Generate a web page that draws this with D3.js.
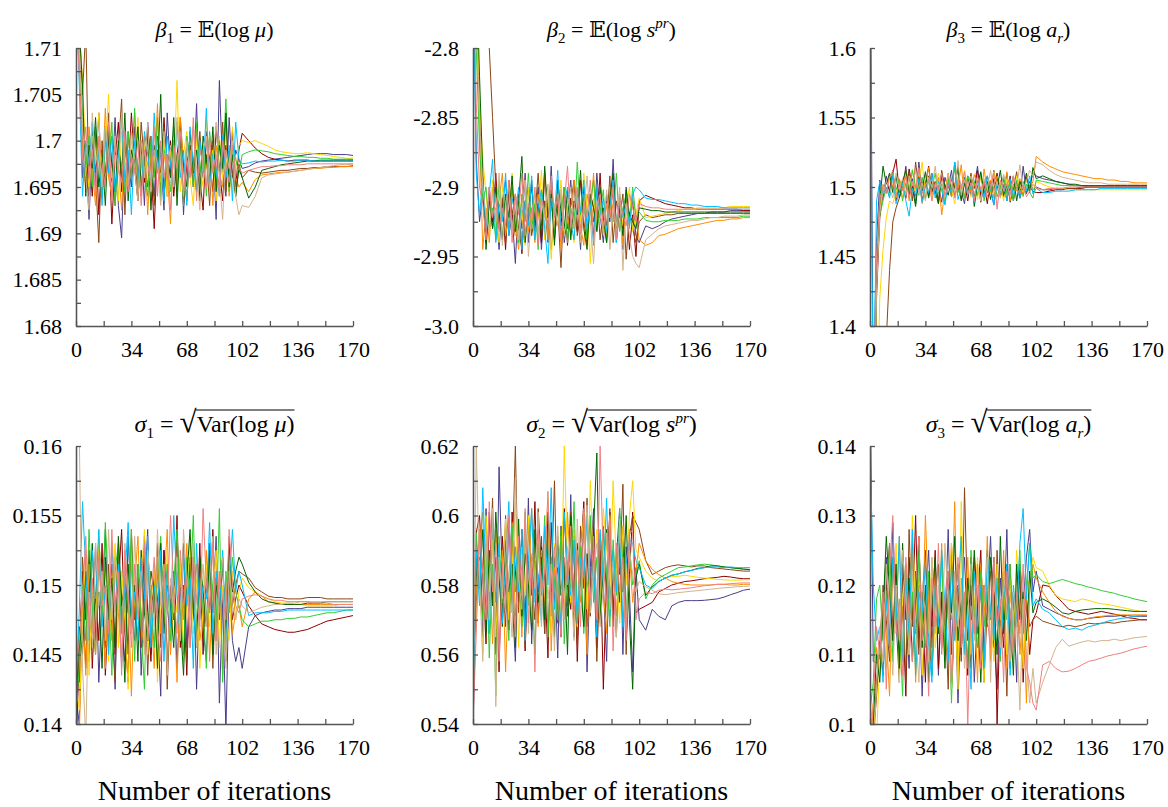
<html>
<script src="https://d3js.org/d3.v7.min.js"></script>
<style>
    body { margin: 0; background: #fff; }
    text { font-family: "Liberation Serif", "Times New Roman", "DejaVu Serif", serif; }
    .axis path,
    .axis line {
        fill: none;
        stroke: #555;
        stroke-width: 1.3;
    }
    .axis text { font-size: 22px; fill: #000; }
</style>
<body>
<svg id="chart" width=1168 height=807></svg>
<script>
// iterations at which the chains are sampled
var iters = [0,2,4,6,8,10,12,14,16,18,20,22,24,26,28,30,32,34,36,38,40,42,44,46,48,50,52,54,56,58,60,62,64,66,68,70,72,74,76,78,80,82,84,86,88,90,92,94,96,98,100,102,
             106,110,114,118,122,126,130,134,138,142,146,150,154,158,162,166,170];

var colors = ["#483d8b", "#8b0000", "#8b4513", "#ff8c00", "#ffd700", "#32cd32", "#006400", "#00bfff", "#d2b48c", "#f08080"];

var xTicks = [0,17,34,51,68,85,102,119,136,153,170];
var xLabels = ["0","","34","","68","","102","","136","","170"];

// beta1: values in units of 1e-4 above 1.68
var beta1Base = 1.68, beta1Unit = 1e-4;
var beta1 = [
 [420,300,160,190,115,200,165,230,140,210, 180,155,225,130,95,200,175,150,215,160, 195,130,220,170,140,205,185,125,230,165, 190,145,215,120,200,175,160,240,135,185, 210,150,195,115,265,170,140,225,160,190, 180,170, 172,176,178,179,180,181,182,183,184,185,186,186,186,185,185,185,184],
 [380,290,200,150,185,140,210,120,190,165, 205,110,180,220,145,195,160,230,170,135, 200,155,215,175,105,190,150,225,165,200, 140,185,210,130,175,195,150,220,160,125, 205,180,145,215,170,135,195,160,210,150, 190,208, 200,192,186,182,180,179,178,179,179,179,178,178,178,178,178,178,178],
 [450,330,250,320,140,210,160,90,200,150, 230,170,130,190,245,120,210,160,185,140, 220,175,150,205,130,190,165,215,140,185, 200,155,225,170,135,195,180,145,210,160, 185,130,200,170,150,220,145,190,165,140, 175,160, 168,166,165,166,167,168,168,169,170,170,171,171,172,172,172,172,173],
 [400,280,190,145,215,170,130,200,155,235, 160,140,195,175,125,210,150,180,230,145, 170,205,120,190,160,240,140,185,165,110, 200,150,225,175,135,190,160,215,145,180, 170,205,130,195,165,150,220,140,185,160, 150,155, 145,158,163,164,165,166,166,167,168,169,170,170,171,171,172,172,172],
 [390,310,270,180,150,205,175,230,140,190, 250,160,185,135,210,170,145,200,180,225, 150,195,165,130,215,175,155,205,140,190, 170,265,145,185,210,160,130,200,175,150, 225,165,190,135,205,160,180,145,215,170, 195,200, 198,200,197,194,190,188,187,186,186,187,186,185,184,183,182,181,181],
 [410,280,230,170,205,150,215,185,140,200, 165,220,130,190,175,145,210,160,235,150, 185,170,140,200,160,225,135,190,175,145, 215,165,190,130,205,180,150,220,165,195, 140,210,175,155,200,170,245,145,190,180, 165,185, 188,190,189,188,186,185,184,183,183,182,182,181,181,180,180,180,180],
 [430,320,260,140,195,170,225,150,185,130, 210,175,145,200,160,230,135,190,170,215, 150,180,205,125,195,165,250,140,185,160, 225,130,200,175,150,210,165,190,140,205, 180,155,215,145,195,170,230,150,185,140, 170,160, 138,150,168,170,172,174,175,176,177,178,178,179,179,179,179,179,179],
 [370,260,140,200,175,220,150,190,130,215, 165,205,145,180,225,155,190,120,200,170, 140,210,185,155,230,165,195,135,205,175, 150,220,160,190,130,215,175,145,200,165, 235,150,185,170,140,205,160,195,135,220, 180,175, 176,178,177,178,178,179,178,178,179,179,178,178,178,178,178,178,178],
 [360,300,210,160,125,230,175,195,150,215, 185,140,205,165,230,180,150,210,170,135, 200,160,220,145,190,175,130,210,165,195, 150,225,180,140,200,160,215,170,125,190, 205,145,175,220,160,115,190,170,200,140, 120,130, 128,140,160,163,164,165,166,167,168,169,170,171,172,173,174,174,175],
 [350,270,180,215,160,190,140,205,175,150, 220,135,195,170,155,210,145,185,165,200, 130,190,175,150,215,140,200,160,185,125, 195,170,210,145,180,160,225,135,190,175, 150,205,165,185,140,200,175,155,195,165, 170,165, 168,170,172,172,173,173,174,174,174,175,175,175,175,175,175,175,175]
];

// beta2: values in units of 1e-3 above -3.0
var beta2Base = -3.0, beta2Unit = 1e-3;
var beta2 = [
 [280,120,75,95,60,100,70,85,55,90, 105,65,80,45,95,70,110,60,85,75, 100,55,90,70,115,65,85,95,60,80, 105,70,90,55,100,75,85,65,110,80, 60,95,75,120,70,85,55,100,75,90, 65,60, 72,70,72,75,77,78,79,80,81,81,82,82,82,83,83,83,83],
 [300,240,150,105,60,95,75,110,70,88, 55,100,80,65,95,52,90,75,105,68, 85,60,110,78,95,62,88,72,100,58, 92,80,68,105,75,60,95,85,70,110, 65,90,78,100,60,85,70,95,55,80, 50,90, 94,92,90,88,87,86,85,85,84,84,84,84,84,84,84,83,83],
 [320,300,280,260,230,200,150,100,75,92, 60,105,80,95,70,55,88,100,65,80, 110,72,90,60,98,78,85,42,95,70, 88,105,65,80,95,58,90,75,100,62, 85,72,108,60,90,78,95,48,82,70, 60,75, 80,78,79,80,80,81,81,81,81,81,81,81,81,81,81,81,81],
 [290,230,140,55,85,60,100,75,90,110, 65,80,98,72,55,90,105,68,85,60, 95,78,112,62,88,70,100,55,92,80, 65,105,85,72,58,95,80,110,68,90, 75,60,100,82,70,95,58,88,76,92, 80,62, 58,60,65,66,68,70,71,72,73,74,75,76,76,77,77,78,78],
 [310,250,160,120,95,70,105,80,60,100, 88,75,110,65,92,82,58,100,70,90, 78,112,62,95,48,85,72,105,68,90, 80,60,98,75,110,85,45,92,70,100, 65,88,78,105,60,95,72,85,100,68, 80,92, 78,79,80,81,82,83,84,84,85,85,85,85,85,86,86,86,86],
 [270,200,130,90,100,70,85,62,105,78, 92,68,100,80,60,95,75,110,70,88, 55,98,82,70,105,65,92,78,100,60, 85,72,118,80,95,62,88,105,70,82, 98,60,90,75,110,68,85,95,72,100, 78,82, 76,75,75,76,76,76,77,77,77,78,78,78,78,78,78,79,79],
 [300,260,180,110,55,90,70,100,82,62, 95,78,108,68,90,122,60,85,100,72, 88,65,115,78,95,58,105,82,70,98, 62,90,80,112,70,55,95,85,68,100, 78,60,92,110,72,88,65,98,80,75, 70,85, 84,83,83,82,82,82,82,82,82,82,82,82,82,82,82,82,82],
 [260,110,80,105,70,95,120,60,88,75, 110,65,92,80,100,55,90,72,108,62, 85,98,70,45,92,80,112,66,88,100, 75,62,95,82,105,70,88,58,100,78, 92,68,85,105,60,95,78,88,70,95, 100,98, 92,91,91,90,89,88,88,87,87,86,86,86,85,85,85,85,85],
 [285,220,150,100,80,68,95,75,110,58, 88,100,70,92,62,85,105,50,80,95, 68,90,78,102,55,88,72,98,65,85, 100,70,92,60,82,108,75,45,90,80, 68,98,55,85,72,100,40,88,65,50, 45,42, 62,66,70,72,73,74,75,76,76,77,78,78,79,79,79,80,80],
 [275,160,100,88,62,100,78,92,68,85, 72,105,60,95,80,110,65,88,75,100, 58,92,82,70,108,78,95,62,88,115, 72,85,100,66,90,78,105,60,85,95, 70,88,78,100,62,92,80,72,95,85, 75,88, 86,85,85,84,84,84,84,84,84,84,84,84,84,84,84,84,84]
];

// beta3: values in units of 1e-3 above 1.4
var beta3Base = 1.4, beta3Unit = 1e-3;
var beta3 = [
 [300,-50,60,105,92,108,96,112,90,103, 98,115,94,106,88,118,97,104,92,110, 95,101,89,107,99,112,93,103,97,88, 108,94,101,115,90,104,96,99,87,106, 100,93,110,89,98,105,92,115,96,101, 110,108, 106,105,104,103,102,101,101,100,100,100,100,100,100,100,100,100,100],
 [-300,-150,20,78,95,104,98,110,120,96, 105,92,113,100,94,108,90,102,115,97, 104,89,110,98,106,93,101,114,95,103, 90,107,99,112,94,102,88,105,98,110, 93,101,96,108,90,104,99,95,107,100, 97,96, 96,97,98,98,99,99,99,100,100,100,100,100,100,100,100,100,100],
 [-400,-300,-200,-120,-60,-10,40,75,85,92, 100,95,110,90,118,98,104,92,108,96, 102,88,112,99,106,94,118,100,91,107, 97,110,93,104,89,101,108,95,112,99, 94,106,90,103,98,111,92,100,95,104, 98,100, 98,98,99,99,99,99,100,100,100,100,100,100,100,100,100,100,100],
 [-250,-120,30,85,102,95,110,100,92,106, 98,112,90,104,96,108,88,101,114,94, 100,107,80,97,110,93,103,99,116,92, 104,96,109,101,90,113,97,105,92,108, 100,95,111,90,102,97,106,93,110,99, 104,122, 118,115,113,111,110,109,108,107,106,106,105,105,104,104,103,103,103],
 [-300,-200,-80,20,55,78,90,88,96,104, 92,108,99,113,95,102,118,94,106,90, 101,110,97,92,105,99,88,107,96,112, 100,93,104,91,109,97,102,95,111,98, 103,90,106,99,94,108,100,96,105,102, 98,104, 102,100,99,99,98,98,98,98,98,98,98,98,98,98,98,98,98],
 [-200,-90,40,80,90,100,93,110,98,105, 90,103,96,112,100,94,107,91,105,99, 110,95,102,88,106,98,114,96,101,92, 108,99,104,94,110,90,103,97,106,93, 100,108,95,103,90,105,98,94,102,96, 92,105, 104,103,102,101,101,101,101,101,101,101,101,101,101,101,101,101,101],
 [-250,-100,30,90,115,102,110,96,108,92, 104,112,95,100,86,107,98,111,93,104, 97,88,109,101,94,106,99,115,90,103, 96,108,86,102,111,95,104,91,106,99, 112,94,101,97,108,90,104,98,110,96, 114,106, 108,106,104,103,102,102,101,101,101,101,101,101,101,101,101,101,101],
 [260,-80,90,104,95,100,92,108,88,97, 103,90,79,99,94,106,89,101,96,110, 92,104,98,87,103,95,118,91,100,106, 94,101,89,105,97,93,108,100,87,103, 96,102,90,106,94,100,92,104,97,108, 95,99, 96,96,97,97,97,98,98,98,98,99,99,99,99,99,99,99,99],
 [-220,-110,25,82,96,104,100,92,110,98, 106,94,108,101,112,95,103,90,107,100, 115,97,104,93,109,101,96,119,94,105, 100,108,95,103,90,106,99,112,96,104, 92,109,101,95,107,100,116,98,104,112, 108,118, 116,112,109,107,106,105,104,103,103,103,102,102,102,102,102,102,102],
 [-180,-60,50,92,100,96,106,112,94,102, 97,108,92,104,99,114,95,101,106,90, 103,98,110,94,100,107,92,105,99,111, 95,103,90,108,98,104,93,100,110,84, 105,97,102,94,108,99,95,101,93,97, 102,99, 98,99,99,99,100,100,100,100,100,100,100,100,100,100,100,100,100]
];

// sigma1: values in units of 1e-4 above 0.14
var sigma1Base = 0.14, sigma1Unit = 1e-4;
var sigma1 = [
 [20,0,95,40,110,65,130,30,90,140, 55,100,25,120,70,45,135,80,60,115, 35,95,140,50,105,75,20,125,85,60, 110,40,95,130,55,85,120,25,100,70, 45,115,80,135,15,90,-5,105,60,45, 55,40, 70,78,80,81,82,82,83,83,83,84,84,84,84,84,84,84,84],
 [-20,50,110,75,125,40,95,60,130,35, 85,115,50,100,140,65,30,120,75,105, 55,135,80,45,110,90,60,125,40,100, 75,150,55,95,35,115,85,65,130,50, 105,80,140,60,95,120,45,110,75,90, 100,95, 85,78,72,70,68,67,66,66,67,68,70,72,74,75,76,77,78],
 [60,30,120,80,45,100,65,135,90,55, 115,70,30,125,85,105,50,140,75,95, 60,120,35,100,80,130,55,110,25,90, 75,140,65,100,45,120,85,55,115,70, 95,130,40,105,75,120,60,135,85,100, 110,108, 105,98,95,92,91,91,90,90,90,91,91,91,90,90,90,90,90],
 [0,-10,85,35,115,70,50,130,90,40, 105,60,125,80,45,110,95,20,100,135, 70,55,115,85,40,120,65,100,140,50, 90,30,110,75,130,55,95,115,60,80, 125,45,100,70,110,35,90,120,65,80, 85,70, 90,95,92,88,87,86,86,86,86,86,86,86,86,86,86,86,86],
 [30,10,70,125,35,100,60,140,80,115, 45,95,130,55,110,75,25,120,90,65, 105,140,50,85,115,30,95,70,125,60, 100,80,120,45,90,135,65,105,40,85, 115,70,95,125,55,100,80,60,110,75, 95,105, 98,95,92,90,88,87,87,86,86,85,85,85,85,85,86,86,86],
 [10,40,100,60,140,85,50,120,75,145, 95,35,110,130,65,100,80,140,45,115, 70,25,125,90,55,105,135,75,115,60, 100,140,80,50,120,90,150,65,105,85, 40,125,95,70,155,30,110,80,120,95, 85,75, 70,72,74,74,75,75,76,76,77,77,78,79,80,80,81,82,82],
 [5,70,50,110,85,130,60,95,40,120, 75,105,55,135,90,30,115,70,100,45, 125,80,60,110,95,40,130,65,100,85, 55,115,75,35,105,140,80,60,120,95, 70,125,50,100,85,115,65,130,95,110, 120,115, 102,95,90,88,87,86,86,86,86,87,87,87,88,88,88,88,88],
 [30,80,160,110,60,125,90,140,70,100, 50,130,85,115,40,105,145,75,95,60, 120,90,135,55,100,80,125,45,110,70, 150,95,60,120,85,105,40,130,75,100, 90,145,65,110,80,125,55,100,140,95, 110,100, 78,80,80,80,81,81,82,82,82,82,82,82,82,82,82,82,82],
 [220,210,40,-10,95,55,130,85,110,60, 140,75,120,100,45,130,90,65,135,80, 110,50,125,95,70,140,85,115,35,105, 80,120,60,140,100,75,130,55,90,115, 70,105,135,50,95,120,40,110,85,75, 90,85, 80,82,84,85,86,86,87,87,88,88,88,88,88,88,88,88,88],
 [40,60,90,135,70,105,50,120,85,100, 65,140,80,110,35,125,95,55,115,75, 100,130,60,90,120,70,45,110,80,150, 95,65,125,85,105,55,120,90,70,155, 100,80,130,60,110,90,75,140,100,85, 80,90, 92,93,92,90,89,89,88,88,88,88,87,87,87,86,86,86,86]
];

// sigma2: values in units of 1e-4 above 0.54
var sigma2Base = 0.54, sigma2Unit = 1e-4;
var sigma2 = [
 [0,350,480,250,620,330,560,200,740,410, 280,590,360,180,520,440,300,650,230,470, 380,540,260,610,340,480,190,570,420,310, 660,250,500,370,590,150,450,620,290,530, 400,180,560,330,480,620,200,510,380,150, 450,300, 270,330,310,300,340,350,355,355,355,356,358,360,365,372,378,385,388],
 [50,550,600,420,230,610,360,480,150,540, 390,270,610,440,320,560,210,470,370,640, 290,510,430,190,580,350,450,250,620,400, 330,540,180,470,640,280,390,560,220,500, 100,420,610,300,480,350,570,240,430,610, 320,330, 340,350,380,390,400,405,410,412,415,418,420,422,425,423,420,418,418],
 [40,420,560,300,510,380,650,210,490,320, 600,270,460,800,350,540,220,580,410,300, 620,450,260,530,380,700,290,560,420,340, 610,480,230,570,390,650,310,500,180,440, 570,350,620,280,510,430,690,200,540,600, 580,560, 470,430,440,450,455,458,455,452,455,455,450,448,446,444,442,440,440],
 [80,380,520,610,300,460,230,560,390,500, 150,420,580,310,480,250,540,360,620,430, 280,500,340,590,210,450,380,540,300,610, 420,270,520,350,470,200,580,410,320,550, 380,260,600,440,310,530,400,270,490,350, 440,520, 470,445,430,420,410,405,402,400,400,400,400,402,402,400,400,402,402],
 [60,300,470,200,600,380,530,250,480,350, 590,300,450,640,220,510,370,600,290,470, 530,340,480,650,260,520,410,320,800,460, 350,560,280,480,610,330,700,420,560,300, 620,510,380,700,450,290,570,400,600,700, 500,480, 440,420,410,420,425,425,428,425,422,420,418,416,415,414,414,415,415],
 [100,550,410,300,520,190,460,80,540,350, 420,240,570,380,490,280,610,340,440,200, 520,370,600,250,480,410,300,560,230,470, 390,640,320,510,260,450,600,350,480,290, 560,430,280,530,370,620,460,310,510,400, 430,470, 360,400,420,430,440,450,452,455,458,460,458,455,452,450,448,445,445],
 [30,480,390,560,260,500,340,610,420,280, 530,380,460,220,590,310,490,400,270,560, 350,480,300,610,420,250,540,370,470,200, 600,330,520,400,280,490,350,560,780,300, 440,560,330,470,250,520,380,600,300,100, 420,460, 370,395,410,420,428,432,438,442,448,450,455,455,452,450,448,446,444],
 [20,500,340,680,420,260,600,350,520,290, 460,640,320,510,380,560,240,470,620,350, 430,290,570,400,680,330,500,260,610,440, 370,530,290,480,420,610,330,470,250,560, 400,650,310,500,380,570,280,460,530,520, 470,450, 400,390,410,420,428,432,438,442,446,450,452,452,450,452,450,450,450],
 [10,800,420,180,530,300,620,50,480,360, 560,390,250,710,420,330,580,260,490,390, 610,280,520,360,460,210,570,400,300,510, 430,240,590,370,480,630,320,450,520,280, 400,550,330,470,250,590,390,280,500,430, 380,410, 395,385,375,372,375,378,380,382,384,386,388,390,392,393,395,396,397],
 [0,260,560,430,300,640,380,520,180,460, 330,600,410,250,540,370,620,290,480,150, 560,380,440,670,310,510,390,250,480,400, 570,320,500,280,620,410,360,540,300,800, 460,340,590,210,520,380,480,240,560,550, 300,360, 380,375,385,388,386,388,390,392,395,398,400,402,402,404,405,406,406]
];

// sigma3: values in units of 1e-4 above 0.10
var sigma3Base = 0.10, sigma3Unit = 1e-4;
var sigma3 = [
 [500,90,88,95,160,240,110,290,150,60, 230,170,80,260,130,200,40,180,250,110, 220,70,190,140,280,100,210,30,170,240, 120,200,60,160,230,90,180,270,130,50, 210,150,280,100,190,60,230,170,240,280, 190,220, 170,165,160,156,152,150,150,152,153,154,155,155,156,156,155,155,155],
 [-50,-20,40,120,70,190,260,130,210,90, 170,40,240,150,300,110,190,60,220,140, 250,80,180,120,210,50,160,230,100,190, 70,240,130,180,250,90,200,150,240,0, 170,110,230,80,190,140,220,60,180,100, 150,160, 200,198,185,175,165,162,160,158,160,162,160,158,156,153,152,150,150],
 [0,-30,60,110,200,150,90,240,170,120, 210,60,280,140,220,100,180,250,130,70, 190,230,110,170,50,260,150,200,90,340, 160,80,240,130,200,60,170,220,110,250, 140,190,40,230,120,170,210,80,180,140, 150,155, 148,145,142,140,142,140,142,145,144,145,146,145,147,148,149,150,150],
 [-40,20,110,70,180,130,40,230,150,270, 90,200,140,250,60,190,110,300,170,80, 220,130,260,100,190,150,320,70,210,140, 240,110,180,60,230,150,270,90,200,170, 120,250,80,190,140,220,100,170,30,190, 230,210, 190,175,162,155,152,150,150,152,154,155,156,157,157,157,157,157,157],
 [0,30,-20,90,150,80,200,120,260,60, 180,230,100,300,150,210,70,190,130,240, 110,170,220,90,150,260,190,50,320,140, 200,100,170,240,130,60,210,160,90,230, 150,190,100,210,120,250,170,80,190,210, 240,225, 220,200,185,180,178,176,180,178,175,173,172,170,168,166,164,162,162],
 [20,60,180,200,120,170,260,90,210,150, 40,230,120,190,80,250,160,110,220,70, 180,140,240,100,200,30,170,230,130,190, 80,250,160,110,220,140,190,240,120,170, 90,210,150,230,110,180,250,130,200,260, 210,215, 205,202,205,208,205,202,200,197,195,192,190,188,185,183,180,178,176],
 [-60,0,100,60,160,270,190,120,230,80, 260,150,210,90,180,270,110,200,60,170, 240,130,190,80,220,160,270,120,180,100, 210,150,250,170,60,200,140,240,180,100, 270,130,210,160,70,230,150,190,120,220, 160,175, 180,175,168,160,158,162,164,165,166,166,166,165,164,163,162,162,162],
 [400,200,120,140,60,180,110,240,150,270, 90,210,130,280,70,190,160,230,110,60, 200,140,250,170,90,230,120,190,270,100, 170,50,220,140,200,80,250,160,120,210, 100,180,230,70,200,140,260,310,180,260, 170,180, 165,160,150,140,136,138,135,140,142,145,148,150,152,153,155,156,156],
 [-10,-40,50,140,90,230,160,70,200,120, 250,180,100,220,140,60,200,160,90,240, 130,200,110,260,170,50,220,140,190,80, 160,230,120,200,90,180,240,60,210,150, 110,220,160,90,190,140,20,180,100,30, 80,30, 60,85,110,122,112,115,118,120,118,120,120,122,120,122,124,125,126],
 [-30,30,140,100,190,50,220,300,130,180, 70,240,150,90,200,270,120,170,40,210, 140,260,100,180,220,60,150,240,110,190, 0,170,130,230,80,200,150,110,240,140, 180,60,220,160,100,190,130,230,80,60, 30,20, 85,90,80,75,76,80,85,90,92,95,98,100,102,105,108,110,112]
];

// axis ticks and labels for each panel
var beta1Ticks = [1.68,1.685,1.69,1.695,1.7,1.705,1.71];
var beta1Labels = ["1.68","1.685","1.69","1.695","1.7","1.705","1.71"];
var beta1Minor = [1.6825,1.6875,1.6925,1.6975,1.7025,1.7075];
var beta2Ticks = [-3.0,-2.95,-2.9,-2.85,-2.8];
var beta2Labels = ["-3.0","-2.95","-2.9","-2.85","-2.8"];
var beta2Minor = [-2.975,-2.925,-2.875,-2.825];
var beta3Ticks = [1.4,1.45,1.5,1.55,1.6];
var beta3Labels = ["1.4","1.45","1.5","1.55","1.6"];
var beta3Minor = [1.425,1.475,1.525,1.575];
var sigma1Ticks = [0.14,0.145,0.15,0.155,0.16];
var sigma1Labels = ["0.14","0.145","0.15","0.155","0.16"];
var sigma1Minor = [0.1425,0.1475,0.1525,0.1575];
var sigma2Ticks = [0.54,0.56,0.58,0.6,0.62];
var sigma2Labels = ["0.54","0.56","0.58","0.6","0.62"];
var sigma2Minor = [0.55,0.57,0.59,0.61];
var sigma3Ticks = [0.1,0.11,0.12,0.13,0.14];
var sigma3Labels = ["0.1","0.11","0.12","0.13","0.14"];
var sigma3Minor = [0.105,0.115,0.125,0.135];

// panel titles: [text, style]
var titles = [
    [["β","i"],["1","sub"],[" = 𝔼(log ",""],["μ","i"],[")",""]],
    [["β","i"],["2","sub"],[" = 𝔼(log ",""],["s","i"],["pr","sup"],[")",""]],
    [["β","i"],["3","sub"],[" = 𝔼(log ",""],["a","i"],["r","subi"],[")",""]],
    [["σ","i"],["1","sub"],[" = ",""],["√","rad"],["Var(log ",""],["μ","i"],[")",""]],
    [["σ","i"],["2","sub"],[" = ",""],["√","rad"],["Var(log ",""],["s","i"],["pr","sup"],[")",""]],
    [["σ","i"],["3","sub"],[" = ",""],["√","rad"],["Var(log ",""],["a","i"],["r","subi"],[")",""]]
];

var panels = [
    {data: beta1, base: beta1Base, unit: beta1Unit, ticks: beta1Ticks, labels: beta1Labels, minor: beta1Minor},
    {data: beta2, base: beta2Base, unit: beta2Unit, ticks: beta2Ticks, labels: beta2Labels, minor: beta2Minor},
    {data: beta3, base: beta3Base, unit: beta3Unit, ticks: beta3Ticks, labels: beta3Labels, minor: beta3Minor},
    {data: sigma1, base: sigma1Base, unit: sigma1Unit, ticks: sigma1Ticks, labels: sigma1Labels, minor: sigma1Minor},
    {data: sigma2, base: sigma2Base, unit: sigma2Unit, ticks: sigma2Ticks, labels: sigma2Labels, minor: sigma2Minor},
    {data: sigma3, base: sigma3Base, unit: sigma3Unit, ticks: sigma3Ticks, labels: sigma3Labels, minor: sigma3Minor}
];

var width = 277, height = 278;
var colX = [76, 473, 870], rowY = [48, 446], titleY = [37, 432], titleSize = [22, 24];
var svg = d3.select("#chart");

panels.forEach(function(p, k) {
    var col = k % 3, row = Math.floor(k / 3);
    var g = svg.append("g")
        .attr("transform", "translate(" + colX[col] + "," + rowY[row] + ")");

    var x = d3.scaleLinear().domain([0, 170]).range([0, width]);
    var y = d3.scaleLinear().domain([p.ticks[0], p.ticks[p.ticks.length - 1]]).range([height, 0]);

    g.append("clipPath").attr("id", "clip" + k)
        .append("rect").attr("width", width).attr("height", height);

    var line = d3.line()
        .x(function(v, i) { return x(iters[i]); })
        .y(function(v) { return y(p.base + v * p.unit); });

    g.append("g").attr("clip-path", "url(#clip" + k + ")")
        .selectAll("path").data(p.data).enter().append("path")
        .attr("fill", "none")
        .attr("stroke", function(d, i) { return colors[i]; })
        .attr("stroke-width", 1)
        .attr("d", line);

    // y axis, ticks pointing inwards
    g.append("g").attr("class", "axis")
        .call(d3.axisLeft(y).tickValues(p.minor).tickSize(-5).tickSizeOuter(0).tickFormat(""));
    g.append("g").attr("class", "axis")
        .call(d3.axisLeft(y).tickValues(p.ticks).tickSize(-5).tickSizeOuter(0).tickPadding(14)
            .tickFormat(function(d, i) { return p.labels[i]; }));

    // x axis
    g.append("g").attr("class", "axis")
        .attr("transform", "translate(0," + height + ")")
        .call(d3.axisBottom(x).tickValues(xTicks).tickSize(-5).tickSizeOuter(0).tickPadding(15)
            .tickFormat(function(d, i) { return xLabels[i]; }));

    // title
    var fs = titleSize[row];
    var t = svg.append("text")
        .attr("x", colX[col] + width / 2)
        .attr("y", titleY[row])
        .attr("text-anchor", "middle")
        .style("font-size", fs + "px");
    var shift = 0, radIndex = -1, count = 0;
    titles[k].forEach(function(s) {
        var target = 0, size = null, italic = false;
        if (s[1] == "i") italic = true;
        if (s[1] == "sub") { target = 6; size = "15px"; }
        if (s[1] == "subi") { target = 6; size = "15px"; italic = true; }
        if (s[1] == "sup") { target = -9; size = "15px"; italic = true; }
        if (s[1] == "rad") { size = "31px"; radIndex = count; }
        var ts = t.append("tspan").text(s[0]).attr("dy", target - shift);
        if (size) ts.style("font-size", size);
        if (italic) ts.style("font-style", "italic");
        shift = target;
        count += s[0].length;
    });
    if (radIndex >= 0) {
        var n = t.node();
        var x0 = n.getEndPositionOfChar(radIndex).x;
        var bb = n.getBBox();
        svg.append("line")
            .attr("x1", x0 - 0.8).attr("x2", bb.x + bb.width)
            .attr("y1", titleY[row] - 22).attr("y2", titleY[row] - 22)
            .attr("stroke", "#000").attr("stroke-width", 1.1);
    }

    if (row == 1) {
        svg.append("text")
            .attr("x", colX[col] + width / 2)
            .attr("y", 800)
            .attr("text-anchor", "middle")
            .style("font-size", "28px")
            .text("Number of iterations");
    }
});
</script>
</body>
</html>
